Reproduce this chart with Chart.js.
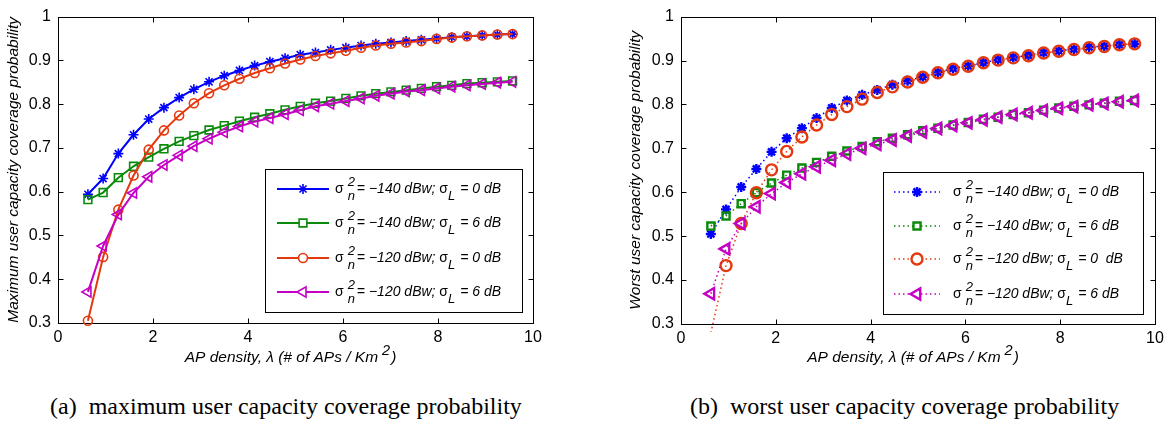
<!DOCTYPE html>
<html>
<head>
<meta charset="utf-8">
<script src="https://cdn.jsdelivr.net/npm/chart.js@4.4.0/dist/chart.umd.min.js"></script>
<style>
body{margin:0;background:#fff;width:1167px;height:435px;overflow:hidden;position:relative}
.panel{position:absolute;top:0;width:570px;height:372px}
#pa{left:0}
#pb{left:622px}
.cap{position:absolute;top:394px;font-family:"Liberation Serif","Times New Roman",serif;font-size:24px;line-height:24px;color:#000;white-space:pre}
</style>
</head>
<body>
<div class="panel" id="pa"><canvas id="chartA" width="570" height="372"></canvas></div>
<div class="panel" id="pb"><canvas id="chartB" width="570" height="372"></canvas></div>
<div class="cap" style="left:50px">(a)  maximum user capacity coverage probability</div>
<div class="cap" style="left:690px">(b)  worst user capacity coverage probability</div>
<script>
// AP density (# of APs / Km^2)
const lambda = [0.63, 0.95, 1.27, 1.59, 1.91, 2.23, 2.55, 2.86, 3.18, 3.50, 3.82, 4.14, 4.46, 4.78, 5.10,
	5.42, 5.74, 6.06, 6.38, 6.69, 7.01, 7.33, 7.65, 7.97, 8.29, 8.61, 8.93, 9.25, 9.57];

// (a) maximum user capacity coverage probability
const maxN140L0 = [0.594, 0.630, 0.687, 0.730, 0.766, 0.792, 0.815, 0.834, 0.851, 0.865, 0.877, 0.888, 0.897, 0.905, 0.913,
	0.918, 0.924, 0.929, 0.934, 0.938, 0.941, 0.944, 0.947, 0.950, 0.953, 0.955, 0.957, 0.959, 0.960];
const maxN140L6 = [0.582, 0.598, 0.632, 0.658, 0.679, 0.698, 0.715, 0.728, 0.741, 0.751, 0.761, 0.770, 0.778, 0.787, 0.795,
	0.802, 0.807, 0.813, 0.819, 0.824, 0.828, 0.832, 0.836, 0.840, 0.843, 0.847, 0.849, 0.851, 0.853];
const maxN120L0 = [0.305, 0.451, 0.559, 0.637, 0.696, 0.740, 0.774, 0.802, 0.825, 0.843, 0.858, 0.871, 0.882, 0.893, 0.902,
	0.910, 0.916, 0.922, 0.929, 0.934, 0.938, 0.941, 0.944, 0.949, 0.952, 0.955, 0.957, 0.959, 0.960];
const maxN120L6 = [0.371, 0.476, 0.548, 0.597, 0.634, 0.661, 0.683, 0.704, 0.721, 0.736, 0.749, 0.760, 0.768, 0.777, 0.786,
	0.795, 0.801, 0.807, 0.813, 0.819, 0.824, 0.829, 0.832, 0.836, 0.840, 0.843, 0.846, 0.849, 0.851];

// (b) worst user capacity coverage probability
const worN140L0 = [0.505, 0.561, 0.612, 0.653, 0.692, 0.723, 0.746, 0.769, 0.792, 0.809, 0.822, 0.833, 0.845, 0.854, 0.863,
	0.873, 0.882, 0.888, 0.895, 0.902, 0.907, 0.912, 0.918, 0.922, 0.926, 0.931, 0.933, 0.936, 0.938];
const worN140L6 = [0.523, 0.546, 0.574, 0.599, 0.621, 0.639, 0.655, 0.668, 0.682, 0.694, 0.704, 0.715, 0.723, 0.731, 0.740,
	0.746, 0.753, 0.759, 0.766, 0.771, 0.777, 0.781, 0.787, 0.792, 0.796, 0.799, 0.803, 0.807, 0.809];
const worN120L0 = [0.280, 0.433, 0.529, 0.599, 0.651, 0.693, 0.726, 0.753, 0.777, 0.795, 0.812, 0.827, 0.840, 0.851, 0.862,
	0.872, 0.880, 0.887, 0.895, 0.901, 0.906, 0.911, 0.917, 0.921, 0.925, 0.929, 0.932, 0.936, 0.938];
const worN120L6 = [0.369, 0.471, 0.529, 0.567, 0.597, 0.622, 0.642, 0.658, 0.673, 0.687, 0.700, 0.709, 0.719, 0.728, 0.737,
	0.745, 0.752, 0.758, 0.765, 0.771, 0.777, 0.781, 0.786, 0.791, 0.795, 0.799, 0.802, 0.806, 0.809];

const xTicks = [0, 2, 4, 6, 8, 10];
const yTicks = [0.3, 0.4, 0.5, 0.6, 0.7, 0.8, 0.9, 1];

// legend: noise power, shadowing
const legNoise = ["\u2212140", "\u2212140", "\u2212120", "\u2212120"];
const legShadowA = ["0 dB", "6 dB", "0 dB", "6 dB"];
const legShadowB = ["0 dB", "6 dB", "0  dB", "6 dB"];

const colors = ["#0000ff", "#0a8a0a", "#e4380e", "#c400c4"];
const markers = ["star", "rect", "circle", "triangle"];
const rotations = [0, 0, 0, -90];

const FONT = '"Liberation Sans", Arial, Helvetica, sans-serif';

// draws a row of text pieces, some raised or lowered
const drawRuns = function(ctx, x, y, runs, size){
	runs.forEach(r => {
		if(r.stack){
			ctx.font = "italic " + (size - 1) + "px " + FONT;
			ctx.fillText(r.sup, x, y - 7);
			ctx.fillText(r.sub, x, y + 7);
			x += Math.max(ctx.measureText(r.sup).width, ctx.measureText(r.sub).width) + r.gap;
		}else{
			ctx.font = (r.upright ? "" : "italic ") + (r.small ? size - 1 : size) + "px " + FONT;
			ctx.fillText(r.t, x, y + (r.dy || 0));
			x += ctx.measureText(r.t).width + (r.gap || 0);
		}
	});
	return x;
};

// box, inward ticks, axis titles
const framePlugin = {
	id: "frame",
	beforeDatasetsDraw(chart){
		const {ctx, chartArea: a, scales: {x, y}} = chart;
		ctx.save();
		ctx.strokeStyle = "#000";
		ctx.lineWidth = 1;
		const l = Math.round(a.left) + 0.5, r = Math.round(a.right) + 0.5,
			t = Math.round(a.top) + 0.5, b = Math.round(a.bottom) + 0.5;
		ctx.strokeRect(l, t, r - l, b - t);
		ctx.beginPath();
		xTicks.forEach(v => {
			const px = Math.round(x.getPixelForValue(v)) + 0.5;
			ctx.moveTo(px, t); ctx.lineTo(px, t + 5);
			ctx.moveTo(px, b); ctx.lineTo(px, b - 5);
		});
		yTicks.forEach(v => {
			const py = Math.round(y.getPixelForValue(v)) + 0.5;
			ctx.moveTo(l, py); ctx.lineTo(l + 5, py);
			ctx.moveTo(r, py); ctx.lineTo(r - 5, py);
		});
		ctx.stroke();
		ctx.restore();
	},
	afterDraw(chart, args, o){
		const {ctx, chartArea: a} = chart;
		ctx.save();
		ctx.fillStyle = "#000";
		ctx.textBaseline = "middle";
		// y title
		ctx.save();
		ctx.translate(o.yTitleX, (a.top + a.bottom) / 2);
		ctx.rotate(-Math.PI / 2);
		ctx.textAlign = "center";
		ctx.font = "italic 15.5px " + FONT;
		ctx.fillText(o.yTitle, 0, 0);
		ctx.restore();
		// x title with superscript
		ctx.textAlign = "left";
		const size = 15.5;
		const runs = [{t: "AP density, \u03bb (# of APs / Km", gap: 4}, {t: "2", dy: -7, small: true, gap: 1}, {t: ")"}];
		ctx.font = "italic " + size + "px " + FONT;
		const tw = ctx.measureText(runs[0].t).width + ctx.measureText(")").width + 15;
		drawRuns(ctx, (a.left + a.right) / 2 - tw / 2 - 4, o.xTitleY, runs, size);
		ctx.restore();
	}
};

// legend box with superscripted sigma labels
const legendPlugin = {
	id: "mlegend",
	afterDraw(chart, args, o){
		const ctx = chart.ctx;
		ctx.save();
		ctx.fillStyle = "#fff";
		ctx.fillRect(o.box[0], o.box[1], o.box[2], o.box[3]);
		ctx.strokeStyle = "#000";
		ctx.lineWidth = 1;
		ctx.strokeRect(o.box[0] + 0.5, o.box[1] + 0.5, o.box[2], o.box[3]);
		chart.data.datasets.forEach((ds, i) => {
			const y = o.rows[i];
			ctx.save();
			ctx.strokeStyle = ds.borderColor;
			ctx.lineWidth = ds.borderWidth;
			ctx.setLineDash(ds.borderDash || []);
			ctx.beginPath();
			ctx.moveTo(o.line[0], y);
			ctx.lineTo(o.line[1], y);
			ctx.stroke();
			ctx.setLineDash([]);
			ctx.strokeStyle = ds.borderColor;
			ctx.fillStyle = "#fff";
			ctx.lineWidth = ds.pointBorderWidth;
			if(Chart.helpers && Chart.helpers.drawPoint){
				Chart.helpers.drawPoint(ctx, {pointStyle: ds.pointStyle, radius: ds.pointRadius,
					rotation: ds.pointRotation, borderWidth: ds.pointBorderWidth}, (o.line[0] + o.line[1]) / 2, y);
			}
			ctx.restore();
			ctx.fillStyle = "#000";
			ctx.textBaseline = "middle";
			ctx.textAlign = "left";
			drawRuns(ctx, o.textX, y, [
				{t: "\u03c3", upright: true, gap: 4},
				{stack: true, sup: "2", sub: "n", gap: 2},
				{t: "= " + legNoise[i] + " dBw; "},
				{t: "\u03c3", upright: true},
				{t: "L", dy: 7, small: true, gap: 1},
				{t: " = " + o.shadow[i]}
			], 14);
		});
		ctx.restore();
	}
};

const makeChart = function(id, series, cfg){
	const datasets = series.map((vals, i) => ({
		label: "s" + i,
		data: vals.map((v, k) => ({x: lambda[k], y: v})),
		borderColor: colors[i],
		backgroundColor: "rgba(0,0,0,0)",
		borderWidth: cfg.lineWidth,
		borderDash: cfg.dash,
		pointStyle: markers[i],
		pointRotation: rotations[i],
		pointRadius: cfg.radius[i],
		pointBorderWidth: cfg.markWidth,
		pointBorderColor: colors[i],
		pointBackgroundColor: "rgba(0,0,0,0)",
		tension: 0,
		order: 4 - i,
		clip: cfg.clip
	}));
	return new Chart(document.getElementById(id), {
		type: "line",
		data: {datasets},
		options: {
			responsive: false,
			animation: false,
			devicePixelRatio: 1,
			layout: {padding: {top: cfg.top, right: 37, bottom: 0, left: 0}},
			plugins: {
				legend: {display: false},
				tooltip: {enabled: false},
				frame: {yTitle: cfg.yTitle, yTitleX: 14, xTitleY: 358},
				mlegend: cfg.legend
			},
			scales: {
				x: {
					type: "linear", min: 0, max: 10,
					afterBuildTicks: s => { s.ticks = xTicks.map(v => ({value: v})); },
					afterFit: s => { s.height = cfg.xh; },
					grid: {display: false, drawTicks: false},
					border: {display: false},
					ticks: {color: "#000", font: {family: FONT, size: 16}, padding: 5, maxRotation: 0}
				},
				y: {
					min: 0.3, max: 1,
					afterBuildTicks: s => { s.ticks = yTicks.map(v => ({value: v})); },
					afterFit: s => { s.width = cfg.yw; },
					grid: {display: false, drawTicks: false},
					border: {display: false},
					ticks: {color: "#000", font: {family: FONT, size: 16}, padding: 7,
						callback: v => (Math.round(v * 10) / 10).toString()}
				}
			}
		},
		plugins: [framePlugin, legendPlugin]
	});
};

makeChart("chartA", [maxN140L0, maxN140L6, maxN120L0, maxN120L6], {
	top: 13, xh: 49, yw: 58,
	lineWidth: 2, dash: [], markWidth: 1.6,
	radius: [5, 5.5, 4.5, 6],
	clip: false,
	yTitle: "Maximum user capacity coverage probability",
	legend: {box: [265, 169, 257, 143], rows: [189, 223, 258, 292], line: [277, 329], textX: 335, shadow: legShadowA}
});

makeChart("chartB", [worN140L0, worN140L6, worN120L0, worN120L6], {
	top: 14, xh: 48, yw: 59,
	lineWidth: 1.5, dash: [1.5, 3], markWidth: 2.4,
	radius: [5, 5, 5.5, 6.5],
	clip: 8,
	yTitle: "Worst user capacity coverage probability",
	legend: {box: [261, 172, 260, 142], rows: [192, 226, 259, 294], line: [272, 318], textX: 331, shadow: legShadowB}
});
</script>
</body>
</html>
